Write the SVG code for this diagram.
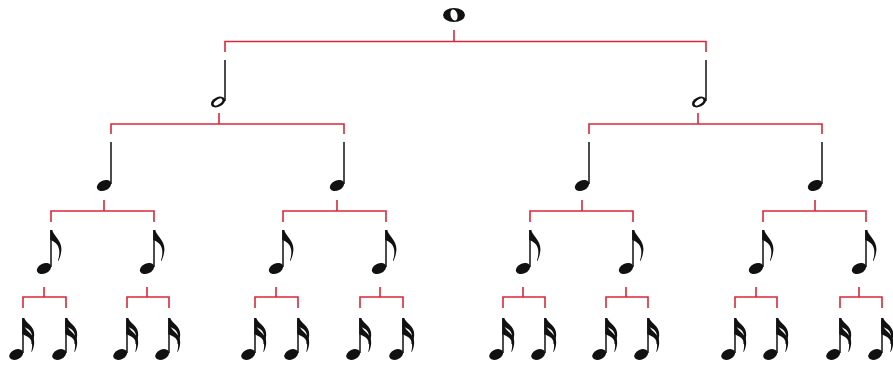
<svg xmlns="http://www.w3.org/2000/svg" xmlns:xlink="http://www.w3.org/1999/xlink" width="893" height="369" viewBox="0 0 893 369">
<style>
.conn{fill:none;stroke:#d8283a;stroke-width:1.6;}
.stem{stroke:#111;stroke-width:1.5;fill:none;}
.ink{fill:#111;}
.hole{fill:#fff;}
</style>
<defs>
<g id="whole">
<ellipse class="ink" cx="0" cy="0" rx="11" ry="7"/>
<ellipse class="hole" cx="0" cy="0" rx="3.4" ry="5.6" transform="rotate(-15)"/>
</g>
<g id="half">
<line class="stem" x1="0" y1="0" x2="0" y2="41"/>
<ellipse class="ink" cx="-7" cy="42" rx="7.5" ry="4.8" transform="rotate(-25 -7 42)"/>
<ellipse class="hole" cx="-7" cy="42" rx="5" ry="2.4" transform="rotate(-35 -7 42)"/>
</g>
<g id="quarter">
<line class="stem" x1="0" y1="0" x2="0" y2="42"/>
<ellipse class="ink" cx="-7" cy="43.5" rx="7.5" ry="5" transform="rotate(-25 -7 43.5)"/>
</g>
<path id="flag" class="ink" d="M-0.8,0 L1.3,0 C2.3,6 11,10 10.4,20 C10,25 8.8,28 7.4,31 L6.9,30.6 C8,27.4 8.6,24 8.2,20 C7.4,14 3,11.5 -0.8,10 Z"/>
<path id="flag16" class="ink" d="M-0.8,0 L1.3,0 C2.4,5 12,8 11.2,17 C11,20.5 10,23.5 8.8,26 L8.3,25.6 C9.2,22.4 9.4,19.4 8.8,16.5 C7.8,11.5 3,9.6 -0.8,8.2 Z"/>
<g id="eighth">
<line class="stem" x1="0" y1="0" x2="0" y2="37"/>
<ellipse class="ink" cx="-7" cy="38.5" rx="7.5" ry="5" transform="rotate(-25 -7 38.5)"/>
<use xlink:href="#flag"/>
</g>
<g id="sixteenth">
<line class="stem" x1="0" y1="0" x2="0" y2="35"/>
<ellipse class="ink" cx="-6.8" cy="36.5" rx="7.3" ry="4.9" transform="rotate(-25 -6.8 36.5)"/>
<use xlink:href="#flag16"/>
<use xlink:href="#flag16" y="8"/>
</g>
</defs>

<g id="connectors">
<path class="conn" d="M454,30 V41.5 M225,52 V41.5 H706 V52"/>
<path class="conn" d="M219,113 V124 M111,134 V124 H344 V134"/>
<path class="conn" d="M698,113 V124 M589,134 V124 H822 V134"/>
<path class="conn" d="M104,200 V211 M51,222 V211 H154 V222"/>
<path class="conn" d="M337,200 V211 M283,222 V211 H386 V222"/>
<path class="conn" d="M582,200 V211 M530,222 V211 H633 V222"/>
<path class="conn" d="M815,200 V211 M763,222 V211 H866 V222"/>
<path class="conn" d="M44,287 V297 M23,308 V297 H66 V308"/>
<path class="conn" d="M147,287 V297 M127,308 V297 H169 V308"/>
<path class="conn" d="M276,287 V297 M255,308 V297 H298 V308"/>
<path class="conn" d="M380,287 V297 M360,308 V297 H403 V308"/>
<path class="conn" d="M523,287 V297 M503,308 V297 H545 V308"/>
<path class="conn" d="M626,287 V297 M606,308 V297 H648 V308"/>
<path class="conn" d="M756,287 V297 M735,308 V297 H777 V308"/>
<path class="conn" d="M859,287 V297 M840,308 V297 H882 V308"/>
</g>

<g id="n-whole"><use xlink:href="#whole" x="454" y="15"/></g>

<g id="n-half-1"><use xlink:href="#half" x="225" y="60"/></g>
<g id="n-half-2"><use xlink:href="#half" x="706" y="60"/></g>

<g id="n-quarter-1"><use xlink:href="#quarter" x="111" y="142"/></g>
<g id="n-quarter-2"><use xlink:href="#quarter" x="344" y="142"/></g>
<g id="n-quarter-3"><use xlink:href="#quarter" x="589" y="142"/></g>
<g id="n-quarter-4"><use xlink:href="#quarter" x="822" y="142"/></g>

<g id="n-eighth-1"><use xlink:href="#eighth" x="51" y="230"/></g>
<g id="n-eighth-2"><use xlink:href="#eighth" x="154" y="230"/></g>
<g id="n-eighth-3"><use xlink:href="#eighth" x="283" y="230"/></g>
<g id="n-eighth-4"><use xlink:href="#eighth" x="386" y="230"/></g>
<g id="n-eighth-5"><use xlink:href="#eighth" x="530" y="230"/></g>
<g id="n-eighth-6"><use xlink:href="#eighth" x="633" y="230"/></g>
<g id="n-eighth-7"><use xlink:href="#eighth" x="763" y="230"/></g>
<g id="n-eighth-8"><use xlink:href="#eighth" x="866" y="230"/></g>

<g id="n-sixteenth-1"><use xlink:href="#sixteenth" x="23" y="318"/></g>
<g id="n-sixteenth-2"><use xlink:href="#sixteenth" x="66" y="318"/></g>
<g id="n-sixteenth-3"><use xlink:href="#sixteenth" x="127" y="318"/></g>
<g id="n-sixteenth-4"><use xlink:href="#sixteenth" x="169" y="318"/></g>
<g id="n-sixteenth-5"><use xlink:href="#sixteenth" x="255" y="318"/></g>
<g id="n-sixteenth-6"><use xlink:href="#sixteenth" x="298" y="318"/></g>
<g id="n-sixteenth-7"><use xlink:href="#sixteenth" x="360" y="318"/></g>
<g id="n-sixteenth-8"><use xlink:href="#sixteenth" x="403" y="318"/></g>
<g id="n-sixteenth-9"><use xlink:href="#sixteenth" x="503" y="318"/></g>
<g id="n-sixteenth-10"><use xlink:href="#sixteenth" x="545" y="318"/></g>
<g id="n-sixteenth-11"><use xlink:href="#sixteenth" x="606" y="318"/></g>
<g id="n-sixteenth-12"><use xlink:href="#sixteenth" x="648" y="318"/></g>
<g id="n-sixteenth-13"><use xlink:href="#sixteenth" x="735" y="318"/></g>
<g id="n-sixteenth-14"><use xlink:href="#sixteenth" x="777" y="318"/></g>
<g id="n-sixteenth-15"><use xlink:href="#sixteenth" x="840" y="318"/></g>
<g id="n-sixteenth-16"><use xlink:href="#sixteenth" x="882" y="318"/></g>
</svg>
